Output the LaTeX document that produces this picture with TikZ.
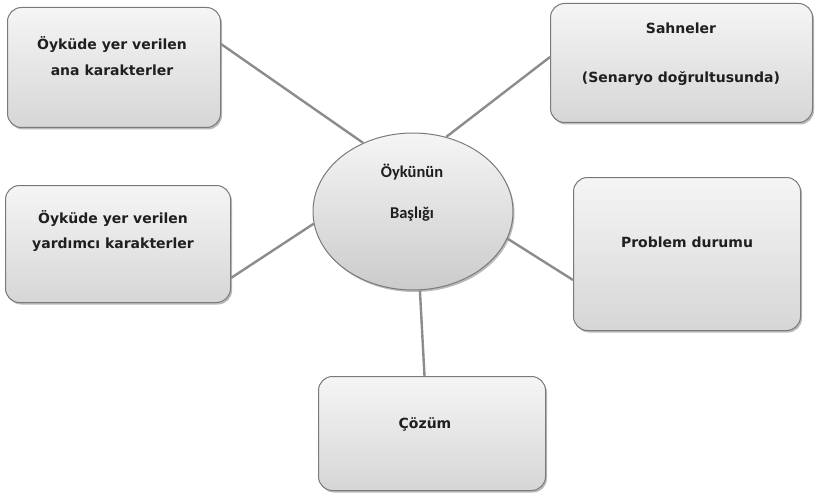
\documentclass[tikz,border=0pt]{standalone}
\usepackage{fontspec}
\setmainfont{DejaVu Sans}
\newfontfamily\titlefont{Carlito}
\usetikzlibrary{shapes.geometric,shadows}
\definecolor{edgegray}{HTML}{8C8C8C}
\definecolor{framegray}{HTML}{7A7A7A}
\definecolor{filltop}{HTML}{F5F5F5}
\definecolor{fillbot}{HTML}{D6D6D6}
\tikzset{
  x=1pt, y=-1pt,
  card/.style={draw=framegray, line width=1pt, rounded corners=14pt,
    top color=filltop, bottom color=fillbot,
    drop shadow={shadow xshift=1.5pt, shadow yshift=-2pt, opacity=0.45, fill=black!60},
    anchor=north west, inner sep=0pt},
  hub/.style={ellipse, draw=framegray, line width=1pt,
    top color=filltop, bottom color=fillbot!95!black,
    drop shadow={shadow xshift=1.5pt, shadow yshift=-2pt, opacity=0.45, fill=black!60},
    minimum width=200pt, minimum height=157pt, inner sep=0pt},
  link/.style={draw=edgegray, line width=2.4pt},
  lbl/.style={font=\bfseries\fontsize{14}{17}\selectfont, text=black!88, anchor=center, inner sep=0pt},
  hublbl/.style={font=\titlefont\bfseries\fontsize{16.5}{19}\selectfont, text=black!88, anchor=center, inner sep=0pt}
}
\begin{document}
\begin{tikzpicture}
\useasboundingbox (0,0) rectangle (816,500);

% boxes
\node[card, minimum width=213pt, minimum height=120pt] (chars) at (7,7) {};
\node[card, minimum width=262pt, minimum height=119pt] (scenes) at (550,3) {};
\node[card, minimum width=225pt, minimum height=117pt] (helpers) at (5,185) {};
\node[card, minimum width=227pt, minimum height=153pt] (problem) at (573,177) {};
\node[card, minimum width=227pt, minimum height=114pt] (solution) at (318,376) {};

% centre
\node[hub] (title) at (413,211.5) {};

% connectors from the centre out to each box
\draw[link] ([yshift=-37pt]chars.north east) -- (title.126);
\draw[link] ([yshift=-54pt]scenes.north west) -- (title.66);
\draw[link] ([yshift=-93pt]helpers.north east) -- (title.187);
\draw[link] ([yshift=-103pt]problem.north west) -- (title.344);
\draw[link] ([xshift=-7.5pt]solution.north) -- (title.275);

% labels
\node[lbl] (t1) at (112,45) {Öyküde yer verilen};
\node[lbl] (t2) at (112,70) {ana karakterler};
\node[lbl] (t3) at (681,28) {Sahneler};
\node[lbl] (t4) at (681,79) {(Senaryo doğrultusunda)};
\node[lbl] (t5) at (113,219) {Öyküde yer verilen};
\node[lbl] (t6) at (113,245) {yardımcı karakterler};
\node[lbl] (t7) at (687,242) {Problem durumu};
\node[lbl] (t8) at (425,424) {Çözüm};
\node[hublbl] (t9) at (412,172) {Öykünün};
\node[hublbl] (t10) at (412,214) {Başlığı};
\end{tikzpicture}
\end{document}
